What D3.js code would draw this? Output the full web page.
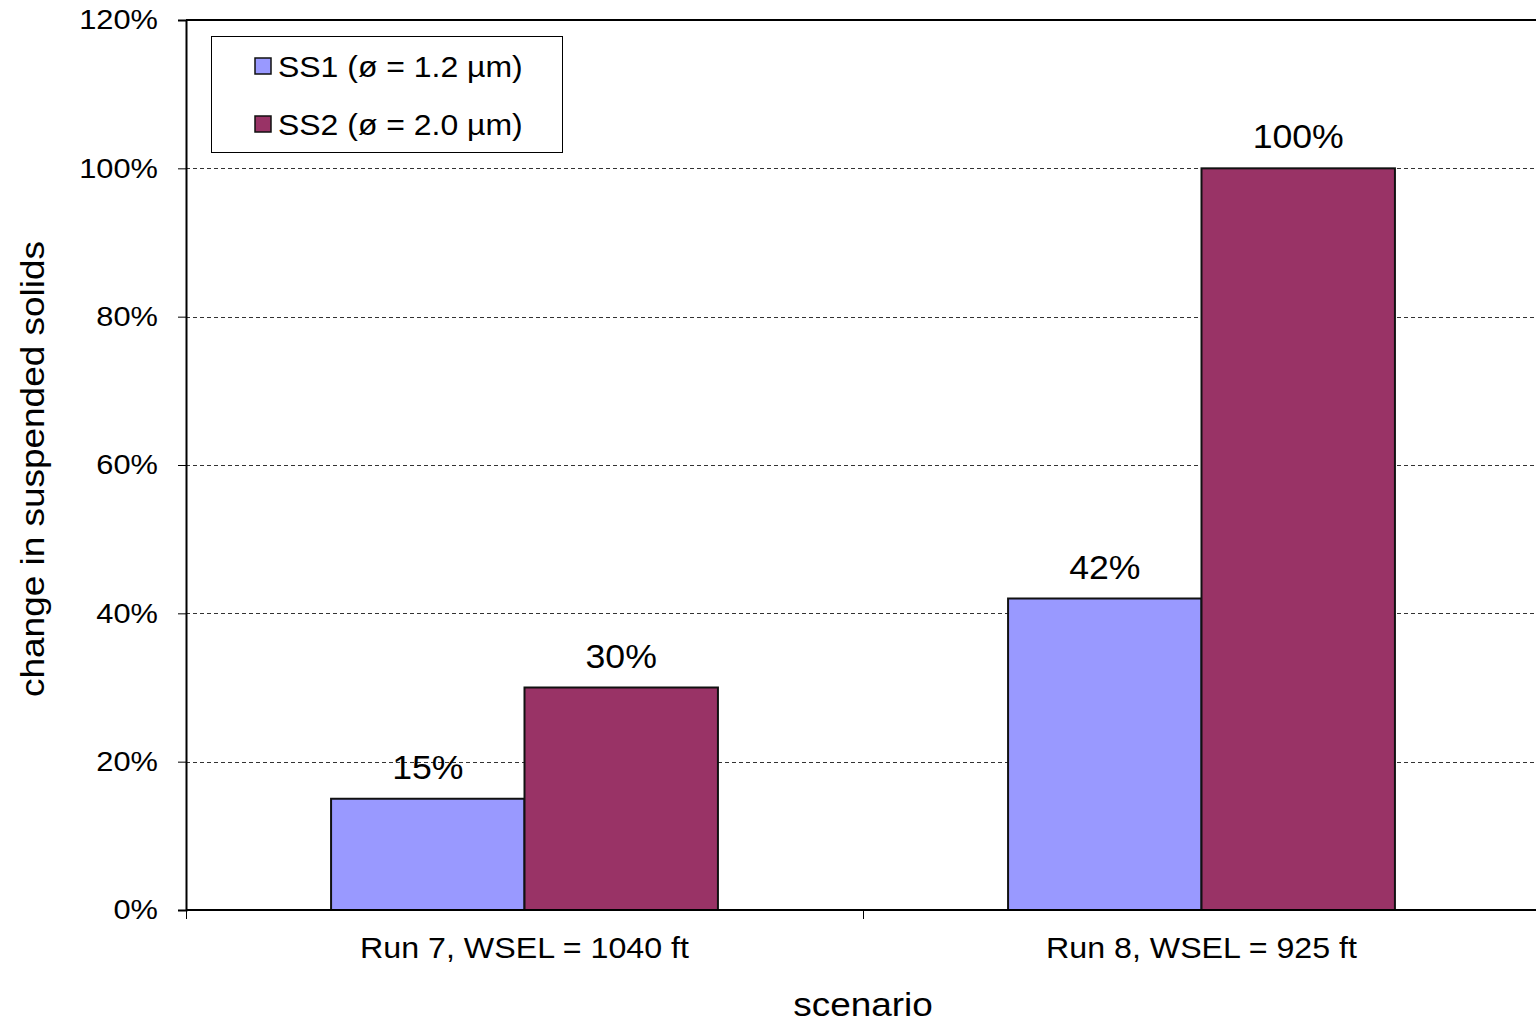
<!DOCTYPE html>
<html>
<head>
<meta charset="utf-8">
<script src="https://cdn.jsdelivr.net/npm/d3@7"></script>
<style>
  html, body { margin: 0; padding: 0; background: #fff; }
  svg { display: block; font-family: "Liberation Sans", Arial, sans-serif; }
</style>
</head>
<body>
<svg id="chart" width="1536" height="1024"></svg>
<script>
// Scenarios along the x axis
const scenarios = ["Run 7, WSEL = 1040 ft", "Run 8, WSEL = 925 ft"];
// Series (suspended-solids size classes)
const seriesNames = ["SS1 (ø = 1.2 µm)", "SS2 (ø = 2.0 µm)"];
const seriesColors = ["#9999FF", "#993366"];
// Change in suspended solids, per scenario, per series (fractions)
const ss1Values = [0.15, 0.42];
const ss2Values = [0.30, 1.00];
// Y tick values
const yTicks = [0, 0.2, 0.4, 0.6, 0.8, 1.0, 1.2];

const svg = d3.select("#chart");
const plotLeft = 186, plotTop = 20, plotBottom = 910, plotRight = 1540;

const y = d3.scaleLinear().domain([0, 1.2]).range([plotBottom, plotTop]);
const x0 = d3.scaleBand().domain(scenarios).range([plotLeft, plotRight]).padding(0);
const x1 = d3.scaleBand().domain(seriesNames)
  .range([0, x0.bandwidth()]).paddingOuter(0.75).paddingInner(0);

const fmt = d3.format(".0%");

// Text in this chart uses a slightly widened face
function wideText(sel, x, y, sx, rot) {
  return sel.attr("transform", (d, i) => {
    const px = typeof x === "function" ? x(d, i) : x;
    const py = typeof y === "function" ? y(d, i) : y;
    return `translate(${px},${py})` + (rot ? ` rotate(${rot})` : "") + ` scale(${sx},1)`;
  });
}

// Dashed horizontal gridlines
svg.append("g").selectAll("line")
  .data(yTicks.filter(t => t > 0 && t < 1.2))
  .join("line")
  .attr("x1", plotLeft).attr("x2", 1536)
  .attr("y1", d => Math.round(y(d)) + 0.5).attr("y2", d => Math.round(y(d)) + 0.5)
  .attr("stroke", "#333").attr("stroke-width", 1)
  .attr("stroke-dasharray", "4,3");

// Top border of the plot area
svg.append("line")
  .attr("x1", plotLeft).attr("x2", 1536)
  .attr("y1", plotTop).attr("y2", plotTop)
  .attr("stroke", "#000").attr("stroke-width", 2);

// Bars
const rows = scenarios.map((s, i) => ({ scenario: s, values: [ss1Values[i], ss2Values[i]] }));
const groups = svg.append("g").selectAll("g")
  .data(rows).join("g")
  .attr("transform", d => `translate(${x0(d.scenario)},0)`);

groups.selectAll("rect")
  .data(d => d.values.map((v, j) => ({ name: seriesNames[j], value: v, color: seriesColors[j] })))
  .join("rect")
  .attr("x", d => x1(d.name))
  .attr("width", x1.bandwidth())
  .attr("y", d => y(d.value))
  .attr("height", d => y(0) - y(d.value))
  .attr("fill", d => d.color)
  .attr("stroke", "#111").attr("stroke-width", 2);

// Value labels above bars
groups.selectAll("text")
  .data(d => d.values.map((v, j) => ({ name: seriesNames[j], value: v })))
  .join("text")
  .call(wideText, d => x1(d.name) + x1.bandwidth() / 2, d => y(d.value) - 20, 1.08)
  .attr("text-anchor", "middle")
  .attr("font-size", 33)
  .attr("fill", "#000")
  .text(d => fmt(d.value));

// Y axis
const yAxis = svg.append("g")
  .attr("transform", `translate(${plotLeft},0)`)
  .call(d3.axisLeft(y).tickValues(yTicks).tickFormat(fmt).tickSize(8).tickPadding(17.5));
yAxis.select(".domain").attr("stroke", "#000").attr("stroke-width", 2);
yAxis.selectAll(".tick line").attr("stroke", "#000");
yAxis.selectAll(".tick text").attr("font-size", 28).attr("fill", "#000")
  .attr("font-family", "Liberation Sans, Arial, sans-serif")
  .attr("transform", "scale(1.1,1)");

// X axis line with category-boundary ticks
const xAxis = svg.append("g").attr("transform", `translate(0,${plotBottom})`);
xAxis.append("line").attr("x1", plotLeft).attr("x2", 1536).attr("y1", 0).attr("y2", 0)
  .attr("stroke", "#000").attr("stroke-width", 2);
xAxis.selectAll("line.tk")
  .data([plotLeft, x0(scenarios[1])])
  .join("line").attr("class", "tk")
  .attr("x1", d => d + 0.5).attr("x2", d => d + 0.5)
  .attr("y1", 0).attr("y2", 9)
  .attr("stroke", "#000").attr("stroke-width", 1);
xAxis.selectAll("text")
  .data(scenarios).join("text")
  .call(wideText, d => x0(d) + x0.bandwidth() / 2, 48, 1.11)
  .attr("text-anchor", "middle")
  .attr("font-size", 29)
  .attr("fill", "#000")
  .text(d => d);

// Axis titles
svg.append("text")
  .call(wideText, 863, 1016, 1.12)
  .attr("text-anchor", "middle")
  .attr("font-size", 33)
  .text("scenario");

svg.append("text")
  .call(wideText, 44, 469, 1.12, -90)
  .attr("text-anchor", "middle")
  .attr("font-size", 33)
  .text("change in suspended solids");

// Legend
const legend = svg.append("g");
legend.append("rect")
  .attr("x", 211.5).attr("y", 36.5).attr("width", 351).attr("height", 116)
  .attr("fill", "#fff").attr("stroke", "#000").attr("stroke-width", 1);
const items = legend.selectAll("g.item")
  .data(seriesNames).join("g").attr("class", "item")
  .attr("transform", (d, i) => `translate(0,${66 + i * 58})`);
items.append("rect")
  .attr("x", 255).attr("y", -8).attr("width", 16).attr("height", 16)
  .attr("fill", (d, i) => seriesColors[i])
  .attr("stroke", "#111").attr("stroke-width", 1.5);
items.append("text")
  .call(wideText, 278, 11, 1.065)
  .attr("font-size", 30)
  .text(d => d);
</script>
</body>
</html>
